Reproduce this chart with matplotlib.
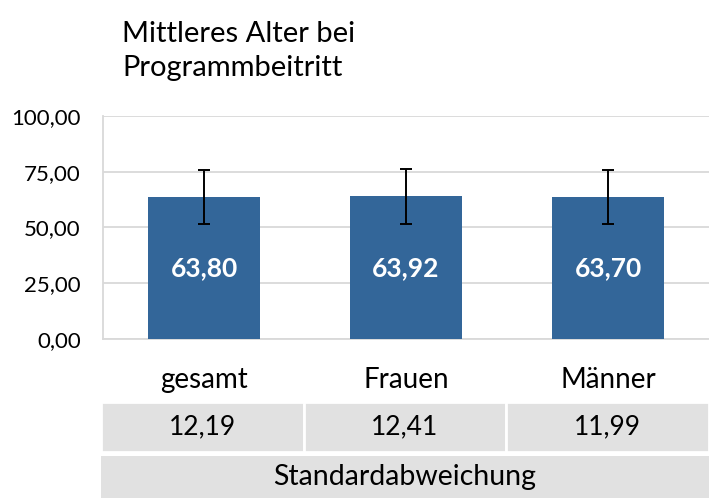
import numpy as np
import matplotlib.pyplot as plt
from matplotlib.patches import Rectangle

plt.rcParams['font.family'] = ['Lato', 'DejaVu Sans']

# data
categories = ['gesamt', 'Frauen', 'Männer']
means = [63.80, 63.92, 63.70]
sds = [12.19, 12.41, 11.99]
yticks = [0, 25, 50, 75, 100]
row_label = 'Standardabweichung'
title = 'Mittleres Alter bei\nProgrammbeitritt'

W, H = 709, 498
fig = plt.figure(figsize=(W / 100, H / 100), dpi=100)

# main chart area (pixel positions from the reference)
ax = fig.add_axes([103 / W, (H - 339) / H, 606 / W, 223 / H])
x = np.arange(len(categories))
bars = ax.bar(x, means, width=0.555, color='#336699', zorder=3)
ax.errorbar(x, means, yerr=sds, fmt='none', ecolor='black', elinewidth=1.4,
            capsize=4.5, capthick=1.4, zorder=4)
for xi, m in zip(x, means):
    ax.text(xi, m / 2, f'{m:.2f}'.replace('.', ','), ha='center', va='center',
            color='white', fontsize=19, fontweight='bold', zorder=5)

ax.set_xlim(-0.5, len(categories) - 0.5)
ax.set_ylim(0, 100)
ax.set_yticks(yticks)
ax.set_yticklabels([f'{v:.2f}'.replace('.', ',') for v in yticks], fontsize=16)
ax.set_xticks(x)
ax.set_xticklabels(categories, fontsize=20)
ax.tick_params(axis='y', length=0, pad=16)
ax.tick_params(axis='x', length=0, pad=20)
ax.grid(axis='y', color='#d9d9d9', linewidth=1.3, zorder=0)
for s in ['top', 'right']:
    ax.spines[s].set_visible(False)
for s in ['left', 'bottom']:
    ax.spines[s].set_color('#d9d9d9')
    ax.spines[s].set_linewidth(1.3)

fig.text(122 / W, 1 - 51 / H, title, fontsize=21, ha='left', va='center',
         linespacing=1.38)

# table under the chart
tab = fig.add_axes([101 / W, 0, 608 / W, 96 / H])
tab.set_xlim(-0.5, len(categories) - 0.5)
tab.set_ylim(0, 96)
tab.axis('off')
cell = '#e1e1e1'
for xi, sd in zip(x, sds):
    tab.add_patch(Rectangle((xi - 0.5, 46), 1, 50, facecolor=cell,
                            edgecolor='white', linewidth=2))
    tab.text(xi, 71, f'{sd:.2f}'.replace('.', ','), ha='center', va='center',
             fontsize=19)
tab.add_patch(Rectangle((-0.5, 0), len(categories), 42, facecolor=cell,
                        edgecolor='none'))
tab.text((len(categories) - 1) / 2, 21, row_label, ha='center', va='center',
         fontsize=20.5)

fig.savefig('out.png', dpi=100)
